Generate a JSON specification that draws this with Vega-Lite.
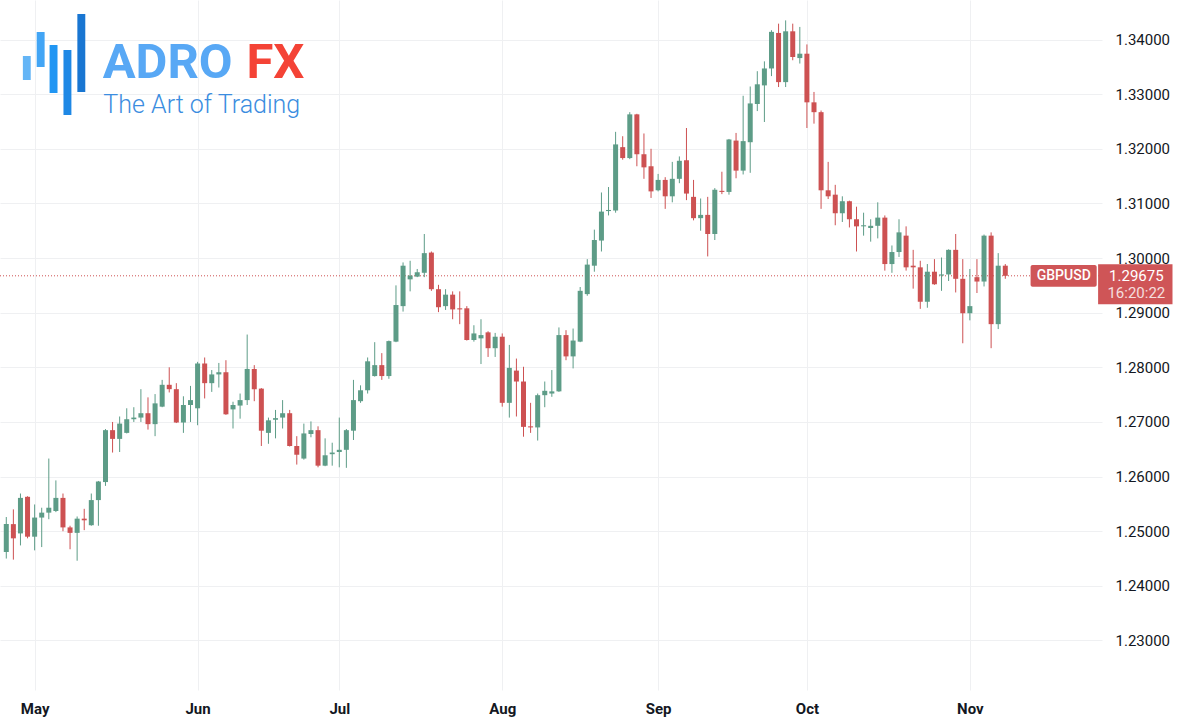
{
"$schema": "https://vega.github.io/schema/vega-lite/v6.json",
"width": 1102, "height": 690,
"autosize": "none",
"padding": {"left": 0, "top": 0, "right": 76, "bottom": 34},
"background": "#ffffff",
"config": {"view": {"stroke": null}, "font": "Roboto"},
"data": {"values": [
{"d":"2024-04-25","n":0,"o":1.2462,"h":1.2526,"l":1.2450,"c":1.2513},
{"d":"2024-04-26","n":1,"o":1.2513,"h":1.2540,"l":1.2448,"c":1.2487},
{"d":"2024-04-29","n":2,"o":1.2496,"h":1.2569,"l":1.2474,"c":1.2561},
{"d":"2024-04-30","n":3,"o":1.2563,"h":1.2564,"l":1.2487,"c":1.2490},
{"d":"2024-05-01","n":4,"o":1.2490,"h":1.2549,"l":1.2465,"c":1.2525},
{"d":"2024-05-02","n":5,"o":1.2525,"h":1.2543,"l":1.2471,"c":1.2534},
{"d":"2024-05-03","n":6,"o":1.2534,"h":1.2633,"l":1.2522,"c":1.2543},
{"d":"2024-05-06","n":7,"o":1.2537,"h":1.2593,"l":1.2535,"c":1.2561},
{"d":"2024-05-07","n":8,"o":1.2561,"h":1.2569,"l":1.2500,"c":1.2507},
{"d":"2024-05-08","n":9,"o":1.2507,"h":1.2510,"l":1.2467,"c":1.2497},
{"d":"2024-05-09","n":10,"o":1.2497,"h":1.2527,"l":1.2446,"c":1.2523},
{"d":"2024-05-10","n":11,"o":1.2523,"h":1.2541,"l":1.2502,"c":1.2520},
{"d":"2024-05-13","n":12,"o":1.2511,"h":1.2569,"l":1.2510,"c":1.2557},
{"d":"2024-05-14","n":13,"o":1.2557,"h":1.2592,"l":1.2510,"c":1.2591},
{"d":"2024-05-15","n":14,"o":1.2590,"h":1.2687,"l":1.2583,"c":1.2685},
{"d":"2024-05-16","n":15,"o":1.2685,"h":1.2700,"l":1.2644,"c":1.2669},
{"d":"2024-05-17","n":16,"o":1.2669,"h":1.2710,"l":1.2645,"c":1.2697},
{"d":"2024-05-20","n":17,"o":1.2680,"h":1.2725,"l":1.2679,"c":1.2705},
{"d":"2024-05-21","n":18,"o":1.2705,"h":1.2727,"l":1.2700,"c":1.2708},
{"d":"2024-05-22","n":19,"o":1.2708,"h":1.2760,"l":1.2700,"c":1.2716},
{"d":"2024-05-23","n":20,"o":1.2716,"h":1.2745,"l":1.2686,"c":1.2696},
{"d":"2024-05-24","n":21,"o":1.2696,"h":1.2751,"l":1.2674,"c":1.2734},
{"d":"2024-05-27","n":22,"o":1.2728,"h":1.2777,"l":1.2727,"c":1.2768},
{"d":"2024-05-28","n":23,"o":1.2768,"h":1.2800,"l":1.2754,"c":1.2760},
{"d":"2024-05-29","n":24,"o":1.2760,"h":1.2771,"l":1.2698,"c":1.2699},
{"d":"2024-05-30","n":25,"o":1.2699,"h":1.2747,"l":1.2680,"c":1.2731},
{"d":"2024-05-31","n":26,"o":1.2731,"h":1.2766,"l":1.2700,"c":1.2740},
{"d":"2024-06-03","n":27,"o":1.2725,"h":1.2810,"l":1.2694,"c":1.2807},
{"d":"2024-06-04","n":28,"o":1.2807,"h":1.2818,"l":1.2743,"c":1.2771},
{"d":"2024-06-05","n":29,"o":1.2771,"h":1.2795,"l":1.2755,"c":1.2787},
{"d":"2024-06-06","n":30,"o":1.2787,"h":1.2808,"l":1.2763,"c":1.2791},
{"d":"2024-06-07","n":31,"o":1.2791,"h":1.2813,"l":1.2713,"c":1.2714},
{"d":"2024-06-10","n":32,"o":1.2723,"h":1.2737,"l":1.2688,"c":1.2731},
{"d":"2024-06-11","n":33,"o":1.2730,"h":1.2752,"l":1.2706,"c":1.2740},
{"d":"2024-06-12","n":34,"o":1.2740,"h":1.2860,"l":1.2731,"c":1.2797},
{"d":"2024-06-13","n":35,"o":1.2797,"h":1.2804,"l":1.2738,"c":1.2760},
{"d":"2024-06-14","n":36,"o":1.2761,"h":1.2762,"l":1.2656,"c":1.2684},
{"d":"2024-06-17","n":37,"o":1.2680,"h":1.2708,"l":1.2660,"c":1.2703},
{"d":"2024-06-18","n":38,"o":1.2704,"h":1.2722,"l":1.2670,"c":1.2707},
{"d":"2024-06-19","n":39,"o":1.2708,"h":1.2740,"l":1.2688,"c":1.2716},
{"d":"2024-06-20","n":40,"o":1.2716,"h":1.2722,"l":1.2655,"c":1.2656},
{"d":"2024-06-21","n":41,"o":1.2656,"h":1.2674,"l":1.2622,"c":1.2640},
{"d":"2024-06-24","n":42,"o":1.2633,"h":1.2697,"l":1.2631,"c":1.2679},
{"d":"2024-06-25","n":43,"o":1.2678,"h":1.2701,"l":1.2672,"c":1.2685},
{"d":"2024-06-26","n":44,"o":1.2685,"h":1.2692,"l":1.2617,"c":1.2620},
{"d":"2024-06-27","n":45,"o":1.2620,"h":1.2670,"l":1.2619,"c":1.2639},
{"d":"2024-06-28","n":46,"o":1.2641,"h":1.2662,"l":1.2620,"c":1.2644},
{"d":"2024-07-01","n":47,"o":1.2645,"h":1.2708,"l":1.2617,"c":1.2649},
{"d":"2024-07-02","n":48,"o":1.2649,"h":1.2687,"l":1.2616,"c":1.2685},
{"d":"2024-07-03","n":49,"o":1.2684,"h":1.2777,"l":1.2667,"c":1.2740},
{"d":"2024-07-04","n":50,"o":1.2738,"h":1.2767,"l":1.2735,"c":1.2758},
{"d":"2024-07-05","n":51,"o":1.2758,"h":1.2818,"l":1.2752,"c":1.2811},
{"d":"2024-07-08","n":52,"o":1.2784,"h":1.2846,"l":1.2783,"c":1.2804},
{"d":"2024-07-09","n":53,"o":1.2804,"h":1.2826,"l":1.2777,"c":1.2784},
{"d":"2024-07-10","n":54,"o":1.2784,"h":1.2849,"l":1.2779,"c":1.2848},
{"d":"2024-07-11","n":55,"o":1.2847,"h":1.2950,"l":1.2846,"c":1.2914},
{"d":"2024-07-12","n":56,"o":1.2912,"h":1.2992,"l":1.2902,"c":1.2986},
{"d":"2024-07-15","n":57,"o":1.2961,"h":1.2995,"l":1.2939,"c":1.2968},
{"d":"2024-07-16","n":58,"o":1.2966,"h":1.2980,"l":1.2965,"c":1.2974},
{"d":"2024-07-17","n":59,"o":1.2973,"h":1.3044,"l":1.2965,"c":1.3009},
{"d":"2024-07-18","n":60,"o":1.3010,"h":1.3012,"l":1.2940,"c":1.2943},
{"d":"2024-07-19","n":61,"o":1.2943,"h":1.2951,"l":1.2901,"c":1.2910},
{"d":"2024-07-22","n":62,"o":1.2912,"h":1.2943,"l":1.2905,"c":1.2933},
{"d":"2024-07-23","n":63,"o":1.2933,"h":1.2939,"l":1.2888,"c":1.2906},
{"d":"2024-07-24","n":64,"o":1.2908,"h":1.2939,"l":1.2879,"c":1.2906},
{"d":"2024-07-25","n":65,"o":1.2908,"h":1.2912,"l":1.2849,"c":1.2850},
{"d":"2024-07-26","n":66,"o":1.2850,"h":1.2877,"l":1.2847,"c":1.2862},
{"d":"2024-07-29","n":67,"o":1.2853,"h":1.2888,"l":1.2806,"c":1.2859},
{"d":"2024-07-30","n":68,"o":1.2864,"h":1.2866,"l":1.2819,"c":1.2835},
{"d":"2024-07-31","n":69,"o":1.2835,"h":1.2863,"l":1.2819,"c":1.2856},
{"d":"2024-08-01","n":70,"o":1.2856,"h":1.2862,"l":1.2728,"c":1.2735},
{"d":"2024-08-02","n":71,"o":1.2735,"h":1.2841,"l":1.2708,"c":1.2799},
{"d":"2024-08-05","n":72,"o":1.2794,"h":1.2816,"l":1.2710,"c":1.2774},
{"d":"2024-08-06","n":73,"o":1.2774,"h":1.2801,"l":1.2673,"c":1.2691},
{"d":"2024-08-07","n":74,"o":1.2692,"h":1.2735,"l":1.2680,"c":1.2690},
{"d":"2024-08-08","n":75,"o":1.2690,"h":1.2752,"l":1.2666,"c":1.2749},
{"d":"2024-08-09","n":76,"o":1.2749,"h":1.2774,"l":1.2727,"c":1.2757},
{"d":"2024-08-12","n":77,"o":1.2752,"h":1.2795,"l":1.2746,"c":1.2756},
{"d":"2024-08-13","n":78,"o":1.2756,"h":1.2873,"l":1.2755,"c":1.2859},
{"d":"2024-08-14","n":79,"o":1.2859,"h":1.2868,"l":1.2813,"c":1.2820},
{"d":"2024-08-15","n":80,"o":1.2820,"h":1.2871,"l":1.2798,"c":1.2849},
{"d":"2024-08-16","n":81,"o":1.2847,"h":1.2947,"l":1.2846,"c":1.2940},
{"d":"2024-08-19","n":82,"o":1.2934,"h":1.2998,"l":1.2931,"c":1.2988},
{"d":"2024-08-20","n":83,"o":1.2986,"h":1.3052,"l":1.2975,"c":1.3033},
{"d":"2024-08-21","n":84,"o":1.3032,"h":1.3120,"l":1.3012,"c":1.3085},
{"d":"2024-08-22","n":85,"o":1.3086,"h":1.3130,"l":1.3078,"c":1.3088},
{"d":"2024-08-23","n":86,"o":1.3087,"h":1.3231,"l":1.3083,"c":1.3208},
{"d":"2024-08-26","n":87,"o":1.3203,"h":1.3223,"l":1.3180,"c":1.3183},
{"d":"2024-08-27","n":88,"o":1.3183,"h":1.3267,"l":1.3181,"c":1.3263},
{"d":"2024-08-28","n":89,"o":1.3263,"h":1.3264,"l":1.3168,"c":1.3190},
{"d":"2024-08-29","n":90,"o":1.3190,"h":1.3228,"l":1.3145,"c":1.3166},
{"d":"2024-08-30","n":91,"o":1.3168,"h":1.3200,"l":1.3110,"c":1.3122},
{"d":"2024-09-02","n":92,"o":1.3124,"h":1.3154,"l":1.3122,"c":1.3143},
{"d":"2024-09-03","n":93,"o":1.3143,"h":1.3148,"l":1.3090,"c":1.3113},
{"d":"2024-09-04","n":94,"o":1.3113,"h":1.3176,"l":1.3102,"c":1.3145},
{"d":"2024-09-05","n":95,"o":1.3145,"h":1.3186,"l":1.3137,"c":1.3178},
{"d":"2024-09-06","n":96,"o":1.3179,"h":1.3238,"l":1.3106,"c":1.3118},
{"d":"2024-09-09","n":97,"o":1.3112,"h":1.3143,"l":1.3069,"c":1.3073},
{"d":"2024-09-10","n":98,"o":1.3073,"h":1.3109,"l":1.3050,"c":1.3079},
{"d":"2024-09-11","n":99,"o":1.3079,"h":1.3112,"l":1.3003,"c":1.3044},
{"d":"2024-09-12","n":100,"o":1.3044,"h":1.3128,"l":1.3033,"c":1.3125},
{"d":"2024-09-13","n":101,"o":1.3123,"h":1.3158,"l":1.3117,"c":1.3121},
{"d":"2024-09-16","n":102,"o":1.3121,"h":1.3218,"l":1.3116,"c":1.3217},
{"d":"2024-09-17","n":103,"o":1.3215,"h":1.3229,"l":1.3146,"c":1.3160},
{"d":"2024-09-18","n":104,"o":1.3160,"h":1.3297,"l":1.3153,"c":1.3214},
{"d":"2024-09-19","n":105,"o":1.3212,"h":1.3314,"l":1.3156,"c":1.3283},
{"d":"2024-09-20","n":106,"o":1.3282,"h":1.3342,"l":1.3269,"c":1.3318},
{"d":"2024-09-23","n":107,"o":1.3316,"h":1.3360,"l":1.3249,"c":1.3347},
{"d":"2024-09-24","n":108,"o":1.3347,"h":1.3417,"l":1.3333,"c":1.3414},
{"d":"2024-09-25","n":109,"o":1.3412,"h":1.3429,"l":1.3313,"c":1.3322},
{"d":"2024-09-26","n":110,"o":1.3322,"h":1.3435,"l":1.3313,"c":1.3415},
{"d":"2024-09-27","n":111,"o":1.3415,"h":1.3429,"l":1.3362,"c":1.3368},
{"d":"2024-09-30","n":112,"o":1.3366,"h":1.3423,"l":1.3356,"c":1.3374},
{"d":"2024-10-01","n":113,"o":1.3374,"h":1.3391,"l":1.3238,"c":1.3285},
{"d":"2024-10-02","n":114,"o":1.3285,"h":1.3304,"l":1.3246,"c":1.3267},
{"d":"2024-10-03","n":115,"o":1.3267,"h":1.3270,"l":1.3090,"c":1.3124},
{"d":"2024-10-04","n":116,"o":1.3124,"h":1.3176,"l":1.3108,"c":1.3113},
{"d":"2024-10-07","n":117,"o":1.3116,"h":1.3134,"l":1.3060,"c":1.3082},
{"d":"2024-10-08","n":118,"o":1.3082,"h":1.3113,"l":1.3066,"c":1.3104},
{"d":"2024-10-09","n":119,"o":1.3104,"h":1.3105,"l":1.3056,"c":1.3071},
{"d":"2024-10-10","n":120,"o":1.3071,"h":1.3094,"l":1.3012,"c":1.3058},
{"d":"2024-10-11","n":121,"o":1.3058,"h":1.3083,"l":1.3041,"c":1.3060},
{"d":"2024-10-14","n":122,"o":1.3055,"h":1.3071,"l":1.3030,"c":1.3059},
{"d":"2024-10-15","n":123,"o":1.3059,"h":1.3102,"l":1.3036,"c":1.3074},
{"d":"2024-10-16","n":124,"o":1.3074,"h":1.3078,"l":1.2977,"c":1.2989},
{"d":"2024-10-17","n":125,"o":1.2989,"h":1.3023,"l":1.2973,"c":1.3011},
{"d":"2024-10-18","n":126,"o":1.3011,"h":1.3071,"l":1.3002,"c":1.3047},
{"d":"2024-10-21","n":127,"o":1.3041,"h":1.3058,"l":1.2977,"c":1.2983},
{"d":"2024-10-22","n":128,"o":1.2986,"h":1.3015,"l":1.2944,"c":1.2983},
{"d":"2024-10-23","n":129,"o":1.2983,"h":1.2995,"l":1.2907,"c":1.2920},
{"d":"2024-10-24","n":130,"o":1.2920,"h":1.2989,"l":1.2909,"c":1.2975},
{"d":"2024-10-25","n":131,"o":1.2975,"h":1.2998,"l":1.2951,"c":1.2952},
{"d":"2024-10-28","n":132,"o":1.2968,"h":1.3001,"l":1.2940,"c":1.2970},
{"d":"2024-10-29","n":133,"o":1.2970,"h":1.3016,"l":1.2958,"c":1.3015},
{"d":"2024-10-30","n":134,"o":1.3015,"h":1.3044,"l":1.2937,"c":1.2962},
{"d":"2024-10-31","n":135,"o":1.2962,"h":1.2998,"l":1.2844,"c":1.2899},
{"d":"2024-11-01","n":136,"o":1.2899,"h":1.2980,"l":1.2886,"c":1.2912},
{"d":"2024-11-04","n":137,"o":1.2965,"h":1.2998,"l":1.2936,"c":1.2957},
{"d":"2024-11-05","n":138,"o":1.2957,"h":1.3043,"l":1.2948,"c":1.3041},
{"d":"2024-11-06","n":139,"o":1.3041,"h":1.3047,"l":1.2835,"c":1.2879},
{"d":"2024-11-07","n":140,"o":1.2879,"h":1.3009,"l":1.2870,"c":1.2986},
{"d":"2024-11-08","n":141,"o":1.2986,"h":1.2989,"l":1.2962,"c":1.29675}
]},
"layer": [
{"data": {"values": [{}]}, "mark": {"type": "rule", "color": "#cd5152", "strokeDash": [1, 2], "strokeWidth": 1},
 "encoding": {"y": {"datum": 1.29675, "type": "quantitative"}}},
{"encoding": {
  "x": {"field": "n", "type": "quantitative",
        "scale": {"domain": [-0.1818, 153.944], "nice": false, "zero": false},
        "axis": {"values": [4, 27, 47, 70, 92, 113, 136],
                 "labelExpr": "datum.value == 4 ? 'May' : datum.value == 27 ? 'Jun' : datum.value == 47 ? 'Jul' : datum.value == 70 ? 'Aug' : datum.value == 92 ? 'Sep' : datum.value == 113 ? 'Oct' : 'Nov'",
                 "grid": true, "gridColor": "#eff0f2", "domain": false, "ticks": false,
                 "labelFontSize": 15, "labelFontWeight": "bold", "labelColor": "#131722",
                 "labelPadding": 11, "labelFlush": false, "labelOverlap": false, "title": null}},
  "color": {"condition": {"test": "datum.c >= datum.o", "value": "#5d9c87"}, "value": "#cd5152"}
 },
 "layer": [
  {"mark": {"type": "rule", "strokeWidth": 1},
   "encoding": {
     "y": {"field": "l", "type": "quantitative", "title": null,
           "scale": {"domain": [1.22094, 1.34723], "nice": false, "zero": false},
           "axis": {"orient": "right", "values": [1.23, 1.24, 1.25, 1.26, 1.27, 1.28, 1.29, 1.30, 1.31, 1.32, 1.33, 1.34],
                    "format": ".5f", "grid": true, "gridColor": "#eff0f2", "domain": false, "ticks": false,
                    "labelFontSize": 15, "labelColor": "#131722", "labelPadding": 13, "title": null}},
     "y2": {"field": "h"}}},
  {"mark": {"type": "bar", "width": 5},
   "encoding": {
     "y": {"field": "o", "type": "quantitative", "title": null},
     "y2": {"field": "c"}}}
 ]},
{"data": {"values": [{}]}, "mark": {"type": "rect", "color": "#cf5557", "cornerRadius": 2},
 "encoding": {"x": {"datum": 144.57, "type": "quantitative"}, "x2": {"datum": 153.9},
              "y": {"datum": 1.29873, "type": "quantitative"}, "y2": {"datum": 1.29476}}},
{"data": {"values": [{}]}, "mark": {"type": "text", "text": "GBPUSD", "color": "#ffffff", "fontSize": 14, "fontWeight": 500, "align": "center", "baseline": "middle"},
 "encoding": {"x": {"datum": 149.25, "type": "quantitative"}, "y": {"datum": 1.29672, "type": "quantitative"}}},
{"data": {"values": [{}]}, "mark": {"type": "rect", "color": "#cf5557"},
 "encoding": {"x": {"datum": 154.1, "type": "quantitative"}, "x2": {"datum": 164.6},
              "y": {"datum": 1.29886, "type": "quantitative"}, "y2": {"datum": 1.29153}}},
{"data": {"values": [{}]}, "mark": {"type": "text", "text": "1.29675", "color": "#ffffff", "fontSize": 15, "align": "center", "baseline": "middle"},
 "encoding": {"x": {"datum": 159.5, "type": "quantitative"}, "y": {"datum": 1.29671, "type": "quantitative"}}},
{"data": {"values": [{}]}, "mark": {"type": "text", "text": "16:20:22", "color": "#ffffff", "opacity": 0.8, "fontSize": 15, "align": "center", "baseline": "middle"},
 "encoding": {"x": {"datum": 159.5, "type": "quantitative"}, "y": {"datum": 1.29360, "type": "quantitative"}}},
{"data": {"values": [{}]}, "mark": {"type": "rect", "color": "#64b5f6"},
 "encoding": {"x": {"datum": 2.34, "type": "quantitative"}, "x2": {"datum": 3.45},
              "y": {"datum": 1.33698, "type": "quantitative"}, "y2": {"datum": 1.33259}}},
{"data": {"values": [{}]}, "mark": {"type": "rect", "color": "#42a5f5"},
 "encoding": {"x": {"datum": 4.29, "type": "quantitative"}, "x2": {"datum": 5.41},
              "y": {"datum": 1.34137, "type": "quantitative"}, "y2": {"datum": 1.33497}}},
{"data": {"values": [{}]}, "mark": {"type": "rect", "color": "#2196f3"},
 "encoding": {"x": {"datum": 6.11, "type": "quantitative"}, "x2": {"datum": 7.23},
              "y": {"datum": 1.33899, "type": "quantitative"}, "y2": {"datum": 1.33021}}},
{"data": {"values": [{}]}, "mark": {"type": "rect", "color": "#1e88e5"},
 "encoding": {"x": {"datum": 8.07, "type": "quantitative"}, "x2": {"datum": 9.19},
              "y": {"datum": 1.33808, "type": "quantitative"}, "y2": {"datum": 1.32618}}},
{"data": {"values": [{}]}, "mark": {"type": "rect", "color": "#1976d2"},
 "encoding": {"x": {"datum": 10.03, "type": "quantitative"}, "x2": {"datum": 11.15},
              "y": {"datum": 1.34467, "type": "quantitative"}, "y2": {"datum": 1.33039}}},
{"data": {"values": [{}]}, "mark": {"type": "text", "text": "ADRO", "color": "#58a8f5", "fontSize": 49, "fontWeight": "bold", "align": "left", "baseline": "alphabetic"},
 "encoding": {"x": {"datum": 13.6, "type": "quantitative"}, "y": {"datum": 1.33295, "type": "quantitative"}}},
{"data": {"values": [{}]}, "mark": {"type": "text", "text": "FX", "color": "#f44336", "fontSize": 49, "fontWeight": "bold", "align": "left", "baseline": "alphabetic"},
 "encoding": {"x": {"datum": 33.9, "type": "quantitative"}, "y": {"datum": 1.33295, "type": "quantitative"}}},
{"data": {"values": [{}]}, "mark": {"type": "text", "text": "The Art of Trading", "color": "#3b8de0", "fontSize": 25, "fontWeight": 300, "align": "left", "baseline": "alphabetic"},
 "encoding": {"x": {"datum": 13.7, "type": "quantitative"}, "y": {"datum": 1.32655, "type": "quantitative"}}}
]
}
